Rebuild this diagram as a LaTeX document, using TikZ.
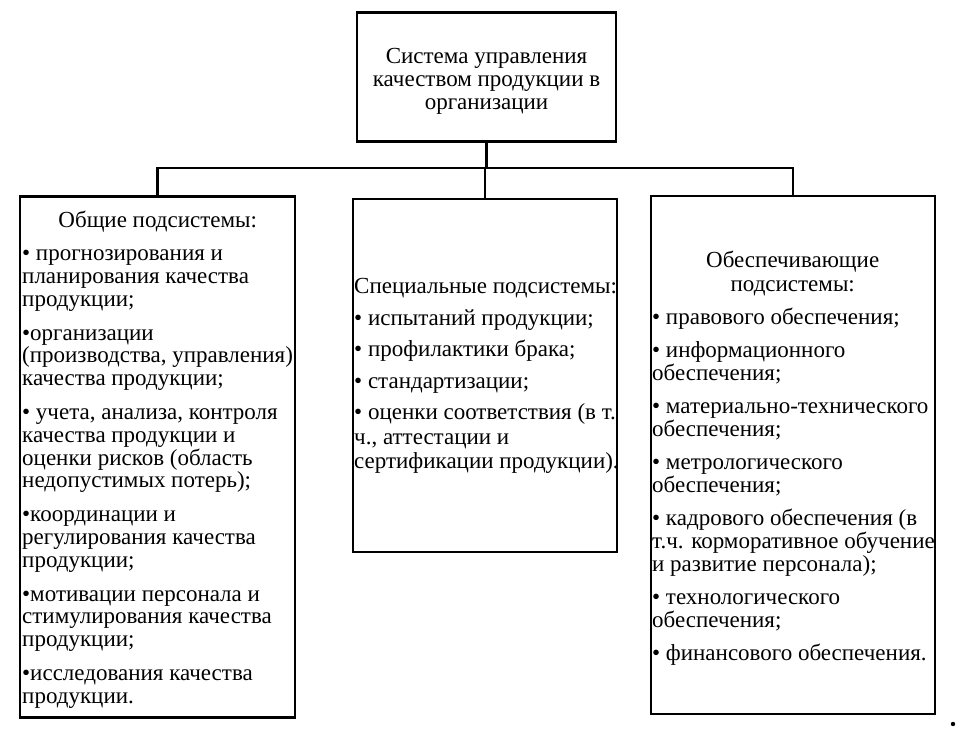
\documentclass[tikz,border=0pt]{standalone}
\usepackage{fontspec}
\setmainfont{Liberation Serif}
\usetikzlibrary{positioning}

\tikzset{
  blok/.style={draw, line width=2.2pt, inner sep=0pt},
  link/.style={line width=2.2pt, line cap=rect},
  txt/.style={inner sep=0pt, anchor=base west,
              font=\fontsize{23}{22.8}\selectfont}
}
\newcommand{\gapL}{\par\vspace{11pt}}
\newcommand{\gapM}{\par\vspace{7pt}}
\newcommand{\gapR}{\par\vspace{10.4pt}}

\begin{document}
\begin{tikzpicture}[x=1pt, y=-1pt]
\useasboundingbox (0,0) rectangle (956,735);

% boxes
\draw (486.5, 77) node[blok, minimum width=259pt, minimum height=129pt] (sys) {};
\draw (157.5, 457) node[blok, minimum width=275pt, minimum height=521pt] (obsh) {};
\draw (485, 375.5) node[blok, minimum width=264pt, minimum height=353pt] (spec) {};
\draw (793, 455) node[blok, minimum width=284pt, minimum height=518pt] (obesp) {};

% connectors
\coordinate (bus) at (486.5, 168);
\draw[link] (sys.south) -- (sys.south |- bus);
\draw[link] (obsh.north |- bus) -- (obesp.north |- bus);
\draw[link] (obsh.north |- bus) -- (obsh.north);
\draw[link] (spec.north |- bus) -- (spec.north);
\draw[link] (obesp.north |- bus) -- (obesp.north);

% texts
\draw (486.5, 64) node[txt, anchor=base] (sys-t) {
\begin{minipage}[t]{255pt}
\centering
Система управления\\
качеством продукции в\\
организации
\end{minipage}
};
\draw (22, 227.5) node[txt] (obsh-t) {
\begin{minipage}[t]{310pt}
\makebox[271pt][c]{Общие подсистемы:}\par
\vspace{10.5pt}
\raggedright
• прогнозирования и\\
планирования качества\\
продукции;\gapL
•организации\\
(производства, управления)\\
качества продукции;\gapL
• учета, анализа, контроля\\
качества продукции и\\
оценки рисков (область\\
недопустимых потерь);\gapL
•координации и\\
регулирования качества\\
продукции;\gapL
•мотивации персонала и\\
стимулирования качества\\
продукции;\gapL
•исследования качества\\
продукции.
\end{minipage}
};
\draw (354, 294) node[txt, font=\fontsize{23}{24.5}\selectfont] (spec-t) {
\begin{minipage}[t]{300pt}
\raggedright
Специальные подсистемы:\gapM
• испытаний продукции;\gapM
• профилактики брака;\gapM
• стандартизации;\gapM
• оценки соответствия (в т.\\
ч., аттестации и\\
сертификации продукции).
\end{minipage}
};
\draw (652, 268) node[txt] (obesp-t) {
\begin{minipage}[t]{310pt}
\makebox[281pt][c]{Обеспечивающие}\\[1.2pt]
\makebox[281pt][c]{подсистемы:}\par
\vspace{9.5pt}
\raggedright
• правового обеспечения;\gapR
• информационного\\
обеспечения;\gapR
• материально-технического\\
обеспечения;\gapR
• метрологического\\
обеспечения;\gapR
• кадрового обеспечения (в\\
т.ч. корморативное обучение\\
и развитие персонала);\gapR
• технологического\\
обеспечения;\gapR
• финансового обеспечения.
\end{minipage}
};

\fill (953, 724) circle (2.2);
\end{tikzpicture}
\end{document}
